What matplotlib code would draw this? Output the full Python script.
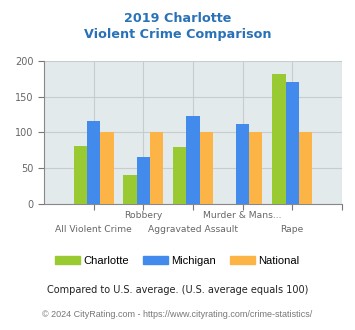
import numpy as np
import matplotlib
matplotlib.use("Agg")
import matplotlib.pyplot as plt
from matplotlib.patches import Patch

# crime rates relative to the US average (100)
categories = ["All Violent Crime", "Robbery", "Aggravated Assault", "Murder & Mans...", "Rape"]
charlotte = [81, 40, 80, 0, 182]
michigan = [116, 66, 123, 112, 171]
national = [100, 100, 100, 100, 100]

series = [("Charlotte", charlotte, "#9aca32"),
          ("Michigan", michigan, "#428aec"),
          ("National", national, "#fdb446")]

fig = plt.figure(figsize=(3.55, 3.3), dpi=100)
ax = fig.add_axes([0.124, 0.382, 0.839, 0.433])
ax.set_facecolor("#e3eaec")

x = np.arange(len(categories))
width = 0.267
for i, (name, vals, col) in enumerate(series):
    ax.bar(x + (i - 1) * width, vals, width, color=col, zorder=3)

ax.set_xlim(-1, 5)
ax.set_ylim(0, 200)
ax.set_yticks([0, 50, 100, 150, 200])
ax.set_xticks(np.arange(0, 6))
ax.set_xticklabels([])
ax.grid(True, color="#c8cccd", linewidth=0.8, zorder=0)
ax.tick_params(axis="both", colors="#777777", labelsize=7, length=4, width=0.8)
ax.tick_params(axis="y", labelcolor="#666666")
for s in ["top", "right"]:
    ax.spines[s].set_visible(False)
for s in ["left", "bottom"]:
    ax.spines[s].set_color("#888888")

# alternating two-row category labels (offsets in points below the axis)
for i, lab in enumerate(categories):
    yoff = -8.5 if i % 2 == 1 else -18.5
    ax.annotate(lab, xy=(i, 0), xycoords=("data", "axes fraction"),
                xytext=(0, yoff), textcoords="offset points",
                ha="center", va="center", fontsize=6.6, color="#666666",
                annotation_clip=False)

fig.text(0.5, 0.945, "2019 Charlotte", ha="center", va="center",
         fontsize=9.2, fontweight="bold", color="#2a72b8")
fig.text(0.5, 0.896, "Violent Crime Comparison", ha="center", va="center",
         fontsize=9.2, fontweight="bold", color="#2a72b8")

handles = [Patch(color=c, label=n) for n, _, c in series]
fig.legend(handles=handles, loc="center", bbox_to_anchor=(0.5, 0.209), ncol=3,
           frameon=False, prop={"family": "Liberation Sans", "size": 8},
           handlelength=2.25, handleheight=0.8, columnspacing=1.25, handletextpad=0.3)

fig.text(0.5, 0.121, "Compared to U.S. average. (U.S. average equals 100)",
         ha="center", va="center", fontsize=7, color="#222222")
fig.text(0.5, 0.048, "\u00a9 2024 CityRating.com - https://www.cityrating.com/crime-statistics/",
         ha="center", va="center", fontsize=6.5, color="#777777", family="Liberation Sans")

fig.savefig("out.png", dpi=100)
